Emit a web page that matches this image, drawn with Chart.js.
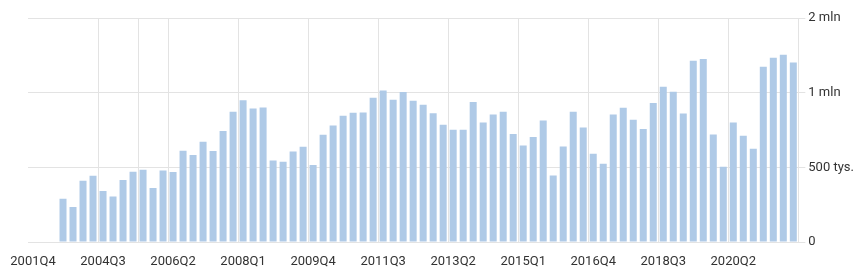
<!DOCTYPE html>
<html lang="pl">
<head>
    <meta charset="UTF-8">
    <title>Kwartalnie</title>
    <style>
        body { margin: 0; background: #fff; }
        #wrap { width: 857px; height: 271px; }
    </style>
</head>
<body>
    <div id="wrap">
        <canvas id="myChart"></canvas>
    </div>

    <script src="https://cdn.jsdelivr.net/npm/chart.js"></script>
    <script>
        // kwartaly (kategorie osi X)
        const quarters = [
            "2002Q4",
            "2003Q1", "2003Q2", "2003Q3", "2003Q4",
            "2004Q1", "2004Q2", "2004Q3", "2004Q4",
            "2005Q1", "2005Q2", "2005Q3", "2005Q4",
            "2006Q1", "2006Q2", "2006Q3", "2006Q4",
            "2007Q1", "2007Q2", "2007Q3", "2007Q4",
            "2008Q1", "2008Q2", "2008Q3", "2008Q4",
            "2009Q1", "2009Q2", "2009Q3", "2009Q4",
            "2010Q1", "2010Q2", "2010Q3", "2010Q4",
            "2011Q1", "2011Q2", "2011Q3", "2011Q4",
            "2012Q1", "2012Q2", "2012Q3", "2012Q4",
            "2013Q1", "2013Q2", "2013Q3", "2013Q4",
            "2014Q1", "2014Q2", "2014Q3", "2014Q4",
            "2015Q1", "2015Q2", "2015Q3", "2015Q4",
            "2016Q1", "2016Q2", "2016Q3", "2016Q4",
            "2017Q1", "2017Q2", "2017Q3", "2017Q4",
            "2018Q1", "2018Q2", "2018Q3", "2018Q4",
            "2019Q1", "2019Q2", "2019Q3", "2019Q4",
            "2020Q1", "2020Q2", "2020Q3", "2020Q4",
            "2021Q1", "2021Q2", "2021Q3", "2021Q4"
        ];

        // podpisy osi X (co 7 kwartalow), tak jak na obrazku
        const xTickLabels = ["2001Q4", "2004Q3", "2006Q2", "2008Q1", "2009Q4", "2011Q3",
                             "2013Q2", "2015Q1", "2016Q4", "2018Q3", "2020Q2"];

        // wartosci w tysiacach
        const values = [
            null, null, null, 290, 234, 410, 444, 341, 305, 415,
            470, 484, 361, 479, 468, 611, 582, 671, 609, 743,
            872, 950, 894, 901, 546, 538, 606, 638, 515, 718,
            780, 845, 865, 868, 966, 1030, 953, 1008, 946, 919,
            863, 785, 752, 752, 937, 800, 854, 872, 723, 647,
            703, 814, 446, 640, 872, 767, 591, 524, 854, 899,
            819, 756, 930, 1079, 1012, 861, 1427, 1450, 720, 504,
            800, 712, 625, 1347, 1467, 1507, 1404
        ];

        // os Y: rowne odstepy miedzy 0, 500 tys., 1 mln, 2 mln
        const yTickValues = [0, 500, 1000, 2000];
        const yTickLabels = ["0", "500 tys.", "1 mln", "2 mln"];

        // przeliczenie wartosci na poziom osi (odcinkami liniowo)
        function f_level(v) {
            if (v === null) return null;
            for (let i = 1; i < yTickValues.length; i++) {
                if (v <= yTickValues[i] || i === yTickValues.length - 1) {
                    return (i - 1) + (v - yTickValues[i - 1]) / (yTickValues[i] - yTickValues[i - 1]);
                }
            }
        }

        const levels = values.map(f_level);
        const gridColor = "#e3e3e3";

        const ctx = document.getElementById("myChart");
        new Chart(ctx, {
            type: "bar",
            data: {
                labels: quarters,
                datasets: [{
                    data: levels,
                    backgroundColor: "#afcae7",
                    barPercentage: 0.7,
                    categoryPercentage: 1.0
                }]
            },
            options: {
                responsive: true,
                maintainAspectRatio: false,
                animation: false,
                layout: { padding: { left: 28, top: 18, right: 0, bottom: 0 } },
                plugins: {
                    legend: { display: false },
                    tooltip: { enabled: false }
                },
                scales: {
                    x: {
                        grid: {
                            offset: true,
                            drawTicks: false,
                            color: function (c) {
                                const i = c.index;
                                if (i > 0 && (i % 7 === 0 || i === 11)) return gridColor;
                                return "rgba(0,0,0,0)";
                            }
                        },
                        border: { color: gridColor },
                        ticks: {
                            autoSkip: false,
                            maxRotation: 0,
                            padding: 12,
                            color: "#333",
                            font: { family: "Roboto", size: 13 },
                            callback: function (val, i) {
                                return i % 7 === 0 ? xTickLabels[i / 7] : "";
                            }
                        },
                        afterFit: function (s) {
                            s.height = 29;
                            s.paddingLeft = 0;
                            s.paddingRight = 0;
                        }
                    },
                    y: {
                        position: "right",
                        min: 0,
                        max: yTickValues.length - 1,
                        grid: { color: gridColor, tickLength: 7 },
                        border: { color: gridColor },
                        ticks: {
                            stepSize: 1,
                            padding: 3,
                            color: "#333",
                            font: { family: "Roboto", size: 13 },
                            callback: function (val) { return yTickLabels[val]; }
                        }
                    }
                }
            }
        });
    </script>
</body>
</html>
